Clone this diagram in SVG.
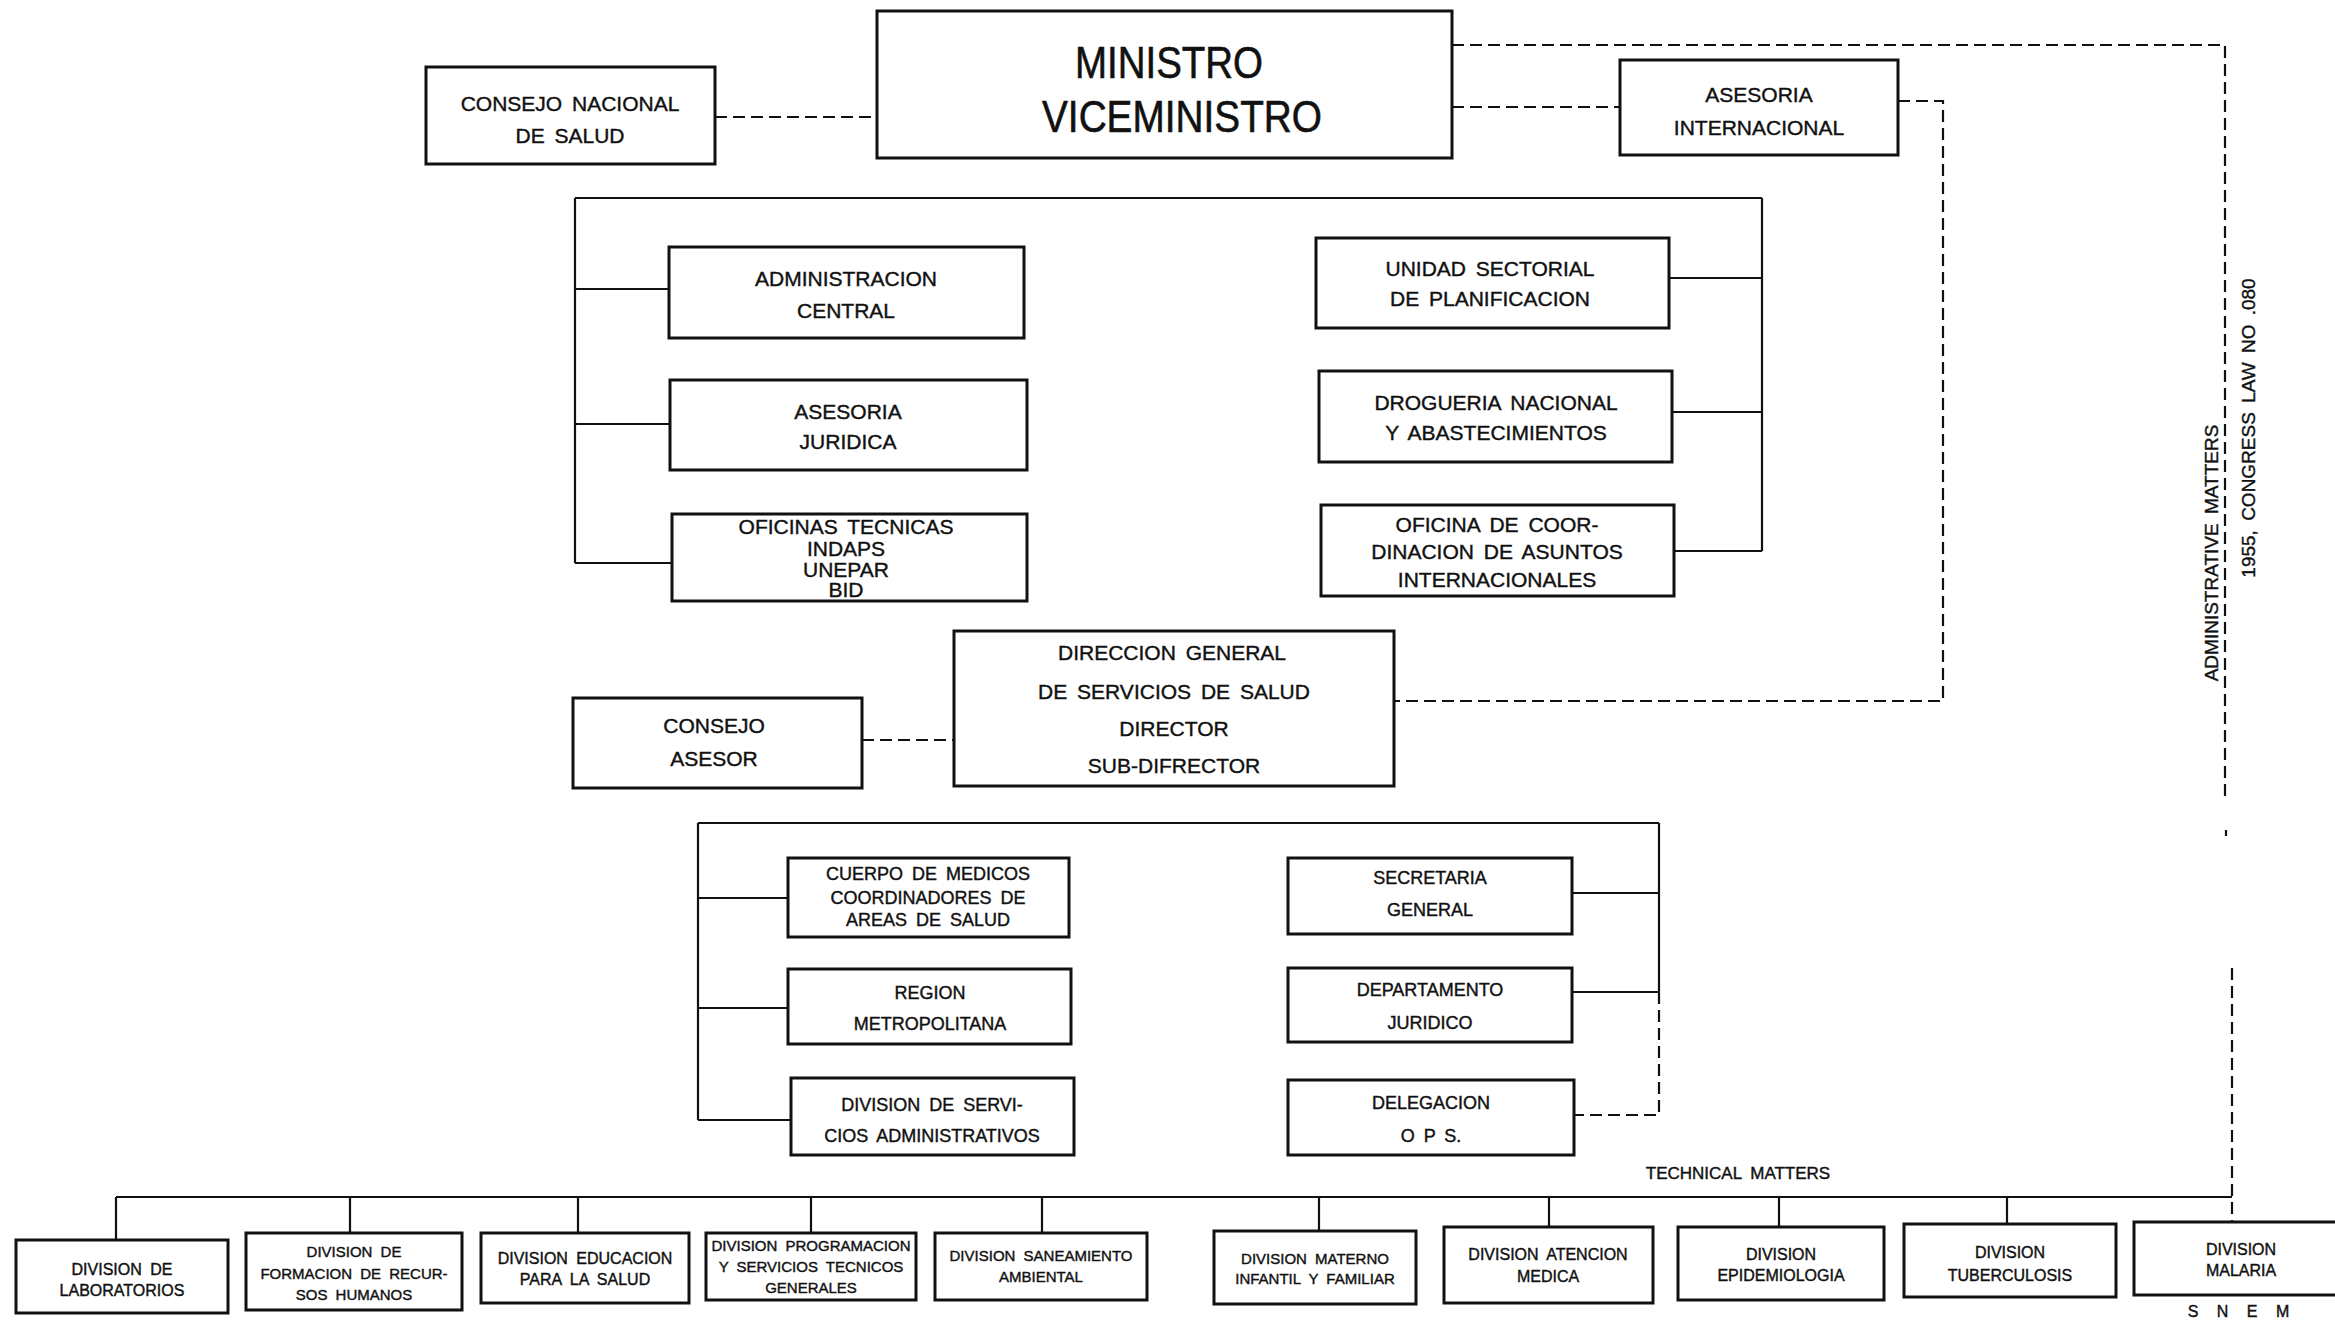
<svg xmlns="http://www.w3.org/2000/svg" width="2335" height="1320" viewBox="0 0 2335 1320">
<style>
.box{fill:#fff;stroke:#111;stroke-width:3}
.ln{fill:none;stroke:#111;stroke-width:2.2}
.dash{fill:none;stroke:#111;stroke-width:2.2;stroke-dasharray:12 6}
text{font-family:"Liberation Sans",Arial,sans-serif;fill:#111;stroke:#111;stroke-width:0.4;text-anchor:middle;dominant-baseline:central;word-spacing:4px}
.t1{font-size:44px;stroke-width:0.6}
.t2{font-size:21px}
.t3{font-size:18px}
.t4{font-size:16px}
.t5{font-size:15px}
.lab{font-size:17px}
.vlab{font-size:19px}
</style>
<rect width="2335" height="1320" fill="#fff"/>
<g id="connectors">
  <path class="dash" d="M715,117 H877"/>
  <path class="dash" d="M1452,45 H2225 V800"/>
  <path class="dash" d="M2226,830 V836"/>
  <path class="dash" d="M2232,968 V1222"/>
  <path class="dash" d="M1452,107 H1620"/>
  <path class="dash" d="M1898,101 H1943 V701 H1394"/>
  <path class="ln" d="M575,198 H1762 M575,198 V563 M575,289 H669 M575,424 H670 M575,563 H672"/>
  <path class="ln" d="M1762,198 V551 M1669,278 H1762 M1672,412 H1762 M1674,551 H1762"/>
  <path class="dash" d="M862,740 H954"/>
  <path class="ln" d="M698,823 H1659 M698,823 V1120 M698,898 H788 M698,1008 H788 M698,1120 H791"/>
  <path class="ln" d="M1659,823 V992 M1572,893 H1659 M1572,992 H1659"/>
  <path class="dash" d="M1659,992 V1115 H1574"/>
  <path class="ln" d="M116,1197 H2232 M116,1197 V1240 M350,1197 V1233 M578,1197 V1233 M811,1197 V1233 M1042,1197 V1233 M1319,1197 V1231 M1549,1197 V1227 M1779,1197 V1227 M2007,1197 V1224"/>
</g>
<g id="n_consejo_nacional">
  <rect class="box" x="426" y="67" width="289" height="97"/>
  <text class="t2" x="570" y="103">CONSEJO NACIONAL</text>
  <text class="t2" x="570" y="135">DE SALUD</text>
</g>
<g id="n_ministro">
  <rect class="box" x="877" y="11" width="575" height="147"/>
  <text class="t1" x="1169" y="62" textLength="188" lengthAdjust="spacingAndGlyphs">MINISTRO</text>
  <text class="t1" x="1182" y="116" textLength="280" lengthAdjust="spacingAndGlyphs">VICEMINISTRO</text>
</g>
<g id="n_asesoria_int">
  <rect class="box" x="1620" y="60" width="278" height="95"/>
  <text class="t2" x="1759" y="94">ASESORIA</text>
  <text class="t2" x="1759" y="127">INTERNACIONAL</text>
</g>
<g id="n_admin_central">
  <rect class="box" x="669" y="247" width="355" height="91"/>
  <text class="t2" x="846" y="278">ADMINISTRACION</text>
  <text class="t2" x="846" y="310">CENTRAL</text>
</g>
<g id="n_asesoria_juridica">
  <rect class="box" x="670" y="380" width="357" height="90"/>
  <text class="t2" x="848" y="411">ASESORIA</text>
  <text class="t2" x="848" y="441">JURIDICA</text>
</g>
<g id="n_oficinas_tecnicas">
  <rect class="box" x="672" y="514" width="355" height="87"/>
  <text class="t2" x="846" y="526">OFICINAS TECNICAS</text>
  <text class="t2" x="846" y="548">INDAPS</text>
  <text class="t2" x="846" y="569">UNEPAR</text>
  <text class="t2" x="846" y="589">BID</text>
</g>
<g id="n_unidad_sectorial">
  <rect class="box" x="1316" y="238" width="353" height="90"/>
  <text class="t2" x="1490" y="268">UNIDAD SECTORIAL</text>
  <text class="t2" x="1490" y="298">DE PLANIFICACION</text>
</g>
<g id="n_drogueria">
  <rect class="box" x="1319" y="371" width="353" height="91"/>
  <text class="t2" x="1496" y="402">DROGUERIA NACIONAL</text>
  <text class="t2" x="1496" y="432">Y ABASTECIMIENTOS</text>
</g>
<g id="n_oficina_coord">
  <rect class="box" x="1321" y="505" width="353" height="91"/>
  <text class="t2" x="1497" y="524">OFICINA DE COOR-</text>
  <text class="t2" x="1497" y="551">DINACION DE ASUNTOS</text>
  <text class="t2" x="1497" y="579">INTERNACIONALES</text>
</g>
<g id="n_direccion">
  <rect class="box" x="954" y="631" width="440" height="155"/>
  <text class="t2" x="1172" y="652">DIRECCION GENERAL</text>
  <text class="t2" x="1174" y="691">DE SERVICIOS DE SALUD</text>
  <text class="t2" x="1174" y="728">DIRECTOR</text>
  <text class="t2" x="1174" y="765">SUB-DIFRECTOR</text>
</g>
<g id="n_consejo_asesor">
  <rect class="box" x="573" y="698" width="289" height="90"/>
  <text class="t2" x="714" y="725">CONSEJO</text>
  <text class="t2" x="714" y="758">ASESOR</text>
</g>
<g id="n_cuerpo_medicos">
  <rect class="box" x="788" y="858" width="281" height="79"/>
  <text class="t3" x="928" y="874">CUERPO DE MEDICOS</text>
  <text class="t3" x="928" y="898">COORDINADORES DE</text>
  <text class="t3" x="928" y="920">AREAS DE SALUD</text>
</g>
<g id="n_region_metro">
  <rect class="box" x="788" y="969" width="283" height="75"/>
  <text class="t3" x="930" y="993">REGION</text>
  <text class="t3" x="930" y="1024">METROPOLITANA</text>
</g>
<g id="n_div_serv_admin">
  <rect class="box" x="791" y="1078" width="283" height="77"/>
  <text class="t3" x="932" y="1105">DIVISION DE SERVI-</text>
  <text class="t3" x="932" y="1136">CIOS ADMINISTRATIVOS</text>
</g>
<g id="n_secretaria">
  <rect class="box" x="1288" y="858" width="284" height="76"/>
  <text class="t3" x="1430" y="878">SECRETARIA</text>
  <text class="t3" x="1430" y="910">GENERAL</text>
</g>
<g id="n_depto_juridico">
  <rect class="box" x="1288" y="968" width="284" height="74"/>
  <text class="t3" x="1430" y="990">DEPARTAMENTO</text>
  <text class="t3" x="1430" y="1023">JURIDICO</text>
</g>
<g id="n_delegacion">
  <rect class="box" x="1288" y="1080" width="286" height="75"/>
  <text class="t3" x="1431" y="1103">DELEGACION</text>
  <text class="t3" x="1431" y="1136">O P S.</text>
</g>
<g id="labels">
  <text class="lab" x="1738" y="1173">TECHNICAL MATTERS</text>
  <text class="vlab" transform="translate(2211,553) rotate(-90)">ADMINISTRATIVE MATTERS</text>
  <text class="vlab" transform="translate(2248,428) rotate(-90)">1955, CONGRESS LAW NO .080</text>
  <text class="t4" x="2241" y="1311" style="letter-spacing:5px">S N E M</text>
</g>
<g id="n_div_lab">
  <rect class="box" x="16" y="1240" width="212" height="73"/>
  <text class="t4" x="122" y="1269">DIVISION DE</text>
  <text class="t4" x="122" y="1290">LABORATORIOS</text>
</g>
<g id="n_div_formacion">
  <rect class="box" x="246" y="1233" width="216" height="77"/>
  <text class="t5" x="354" y="1251">DIVISION DE</text>
  <text class="t5" x="354" y="1273">FORMACION DE RECUR-</text>
  <text class="t5" x="354" y="1294">SOS HUMANOS</text>
</g>
<g id="n_div_educacion">
  <rect class="box" x="481" y="1233" width="208" height="70"/>
  <text class="t4" x="585" y="1258">DIVISION EDUCACION</text>
  <text class="t4" x="585" y="1279">PARA LA SALUD</text>
</g>
<g id="n_div_programacion">
  <rect class="box" x="706" y="1233" width="210" height="67"/>
  <text class="t5" x="811" y="1245">DIVISION PROGRAMACION</text>
  <text class="t5" x="811" y="1266">Y SERVICIOS TECNICOS</text>
  <text class="t5" x="811" y="1287">GENERALES</text>
</g>
<g id="n_div_saneamiento">
  <rect class="box" x="935" y="1233" width="212" height="67"/>
  <text class="t5" x="1041" y="1255">DIVISION SANEAMIENTO</text>
  <text class="t5" x="1041" y="1276">AMBIENTAL</text>
</g>
<g id="n_div_materno">
  <rect class="box" x="1214" y="1231" width="202" height="73"/>
  <text class="t5" x="1315" y="1258">DIVISION MATERNO</text>
  <text class="t5" x="1315" y="1278">INFANTIL Y FAMILIAR</text>
</g>
<g id="n_div_atencion">
  <rect class="box" x="1444" y="1227" width="209" height="76"/>
  <text class="t4" x="1548" y="1254">DIVISION ATENCION</text>
  <text class="t4" x="1548" y="1276">MEDICA</text>
</g>
<g id="n_div_epidemiologia">
  <rect class="box" x="1678" y="1227" width="206" height="73"/>
  <text class="t4" x="1781" y="1254">DIVISION</text>
  <text class="t4" x="1781" y="1275">EPIDEMIOLOGIA</text>
</g>
<g id="n_div_tuberculosis">
  <rect class="box" x="1904" y="1224" width="212" height="73"/>
  <text class="t4" x="2010" y="1252">DIVISION</text>
  <text class="t4" x="2010" y="1275">TUBERCULOSIS</text>
</g>
<g id="n_div_malaria">
  <rect class="box" x="2134" y="1222" width="220" height="73"/>
  <text class="t4" x="2241" y="1249">DIVISION</text>
  <text class="t4" x="2241" y="1270">MALARIA</text>
</g>
</svg>
